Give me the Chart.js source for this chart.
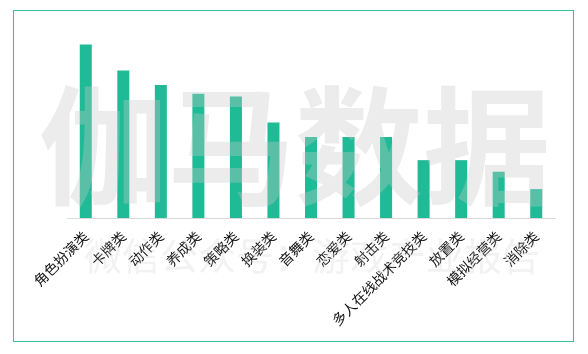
<!DOCTYPE html>
<html>
<head>
<meta charset="utf-8">
<script src="https://cdn.jsdelivr.net/npm/chart.js@4/dist/chart.umd.min.js"></script>
<style>
  body { margin: 0; background: #fff; }
  .frame {
    position: absolute; left: 13px; top: 10px;
    width: 559px; height: 330px;
    border: 1px solid #3cbf9f;
  }
  #wrap { position: absolute; left: 0; top: 0; width: 588px; height: 354px; }
</style>
</head>
<body>
<div class="frame"></div>
<div id="wrap"><canvas id="chart" width="588" height="354"></canvas></div>
<script>
// 游戏类型
const categories = ['角色扮演类', '卡牌类', '动作类', '养成类', '策略类', '换装类', '音舞类',
  '恋爱类', '射击类', '多人在线战术竞技类', '放置类', '模拟经营类', '消除类'];
const values = [60, 51, 46, 43, 42, 33, 28, 28, 28, 20, 20, 16, 10];

const watermark = {
  id: 'watermark',
  afterDraw(chart) {
    const ctx = chart.ctx;
    ctx.save();
    ctx.textAlign = 'center';
    ctx.textBaseline = 'middle';
    ctx.fillStyle = 'rgba(200, 200, 200, 0.35)';
    ctx.font = 'bold 128px "Noto Sans CJK SC"';
    ctx.fillText('伽马数据', 295, 146);
    ctx.fillStyle = 'rgba(205, 205, 205, 0.25)';
    ctx.font = '38px "Noto Sans CJK SC"';
    ctx.fillText('微信公众号：游戏产业报告', 312, 256);
    ctx.restore();
  }
};

new Chart(document.getElementById('chart').getContext('2d'), {
  type: 'bar',
  data: {
    labels: categories,
    datasets: [{
      data: values,
      backgroundColor: '#1fba96',
      barPercentage: 0.32,
      categoryPercentage: 1
    }]
  },
  options: {
    responsive: false,
    animation: false,
    layout: { padding: { left: 67, right: 33, top: 30, bottom: 10 } },
    plugins: { legend: { display: false }, tooltip: { enabled: false } },
    scales: {
      x: {
        grid: { display: false },
        border: { display: true, color: '#d9d9d9', width: 1 },
        ticks: {
          color: '#111',
          font: { family: '"Noto Sans CJK SC"', size: 14 },
          minRotation: 45, maxRotation: 45,
          autoSkip: false,
          padding: 2
        },
        afterFit(scale) { scale.height = 126; }
      },
      y: {
        display: false,
        min: 0, max: 65
      }
    }
  },
  plugins: [watermark]
});
</script>
</body>
</html>
